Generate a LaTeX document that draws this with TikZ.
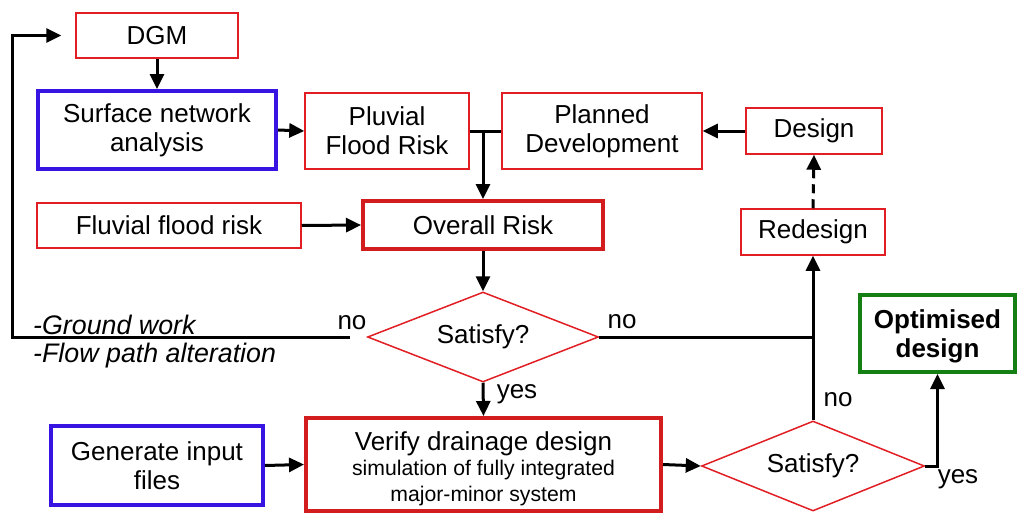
\documentclass[tikz,border=0pt]{standalone}
\usepackage{fontspec}
\setmainfont{Liberation Sans}
\usetikzlibrary{shapes.geometric,arrows.meta}
\definecolor{bred}{RGB}{225,30,35}
\definecolor{tred}{RGB}{210,28,30}
\definecolor{bblue}{RGB}{55,20,225}
\definecolor{bgreen}{RGB}{20,128,20}
\tikzset{
  thinbox/.style={draw=bred,line width=1.5pt,inner sep=0pt,align=center,font=\fontsize{26}{29}\selectfont},
  redthick/.style={draw=tred,line width=4pt,inner sep=0pt,align=center,font=\fontsize{26}{29}\selectfont},
  bluethick/.style={draw=bblue,line width=4pt,inner sep=0pt,align=center,font=\fontsize{26}{29}\selectfont},
  greenthick/.style={draw=bgreen,line width=4pt,inner sep=0pt,align=center,font=\bfseries\fontsize{26}{29}\selectfont},
  dia/.style={draw=bred,line width=1.5pt,diamond,aspect=2.5,inner sep=0pt,font=\fontsize{26}{29}\selectfont},
  arr/.style={line width=3pt,-{Triangle[length=15pt,width=14pt]}},
  ln/.style={line width=3pt},
  lbl/.style={font=\fontsize{26}{29}\selectfont,inner sep=0pt},
  small/.style={font=\fontsize{21.2}{26}\selectfont,inner sep=0pt,anchor=base},
  itl/.style={font=\itshape\fontsize{26.8}{30}\selectfont,inner sep=0pt,anchor=west},
}
\begin{document}
\begin{tikzpicture}[x=1pt,y=-1pt]
\useasboundingbox (0,0) rectangle (1020,514);
\node[thinbox,minimum width=162pt,minimum height=45pt] (dgm) at (157,35.5) {DGM};
\node[bluethick,minimum width=238pt,minimum height=78pt] (surf) at (157,130) {Surface network\\analysis};
\node[thinbox,minimum width=164pt,minimum height=76pt] (pluv) at (387,131) {Pluvial\\Flood Risk};
\node[thinbox,minimum width=200pt,minimum height=76pt] (plan) at (602,131) {Planned\\Development};
\node[thinbox,minimum width=136pt,minimum height=46pt] (design) at (814,131) {Design};
\node[thinbox,minimum width=264pt,minimum height=45pt] (fluv) at (169,225.5) {Fluvial flood risk};
\node[redthick,minimum width=240pt,minimum height=48pt] (over) at (483,225) {Overall Risk};
\node[thinbox,minimum width=144pt,minimum height=46pt] (redes) at (813,232) {Redesign};
\node[dia,minimum width=231pt,minimum height=90pt] (d1) at (483,337) {Satisfy?};
\node[bluethick,minimum width=212pt,minimum height=79pt] (gen) at (157,465.5) {Generate input\\files};
\node[redthick,minimum width=355pt,minimum height=93pt] (ver) at (483.5,464.5) {};
\node[small,font=\fontsize{26}{29}\selectfont] (ver1) at (483.5,450) {Verify drainage design};
\node[small] (ver2) at (483.5,475) {simulation of fully integrated};
\node[small] (ver3) at (483.5,501) {major-minor system};
\node[dia,minimum width=223pt,minimum height=90pt] (d2) at (813,466) {Satisfy?};
\node[greenthick,minimum width=155pt,minimum height=77pt,text depth=0pt] (opt) at (937.5,333.5) {Optimised\\design};

% connectors
\draw[arr] ([xshift=-17pt]d1.west) -| ([xshift=-63pt]dgm.west) -- ([xshift=-14pt]dgm.west);
\draw[arr] (dgm.south) -- (surf.north);
\draw[arr] (surf.east) -- (pluv.west);
\draw[ln] (pluv.east) -- (plan.west);
\draw[arr] (pluv.east -| over.north) -- (over.north);
\draw[arr] (fluv.east) -- (over.west);
\draw[arr] (design.west) -- (plan.east);
\draw[arr,dashed,dash pattern=on 9pt off 6pt] (redes.north) -- (design.south);
\draw[arr] (over.south) -- (d1.north);
\draw[ln] (d1.east) -- (d1.east -| d2.north);
\draw[arr] (d2.north) -- (redes.south);
\draw[arr] (d1.south) -- (ver.north);
\draw[arr] (gen.east) -- (ver.west);
\draw[arr] (ver.east) -- (d2.west);
\draw[arr] (d2.east) -| (opt.south);

% labels
\node[lbl] (no1) at (352,323) {no};
\node[lbl] (no2) at (622,322) {no};
\node[lbl] (yes1) at (517,394) {yes};
\node[lbl] (no3) at (838,400) {no};
\node[lbl] (yes2) at (958,479) {yes};
\node[itl] (gw) at (33,325) {-Ground work};
\node[itl] (fp) at (33,356) {-Flow path alteration};
\end{tikzpicture}
\end{document}
